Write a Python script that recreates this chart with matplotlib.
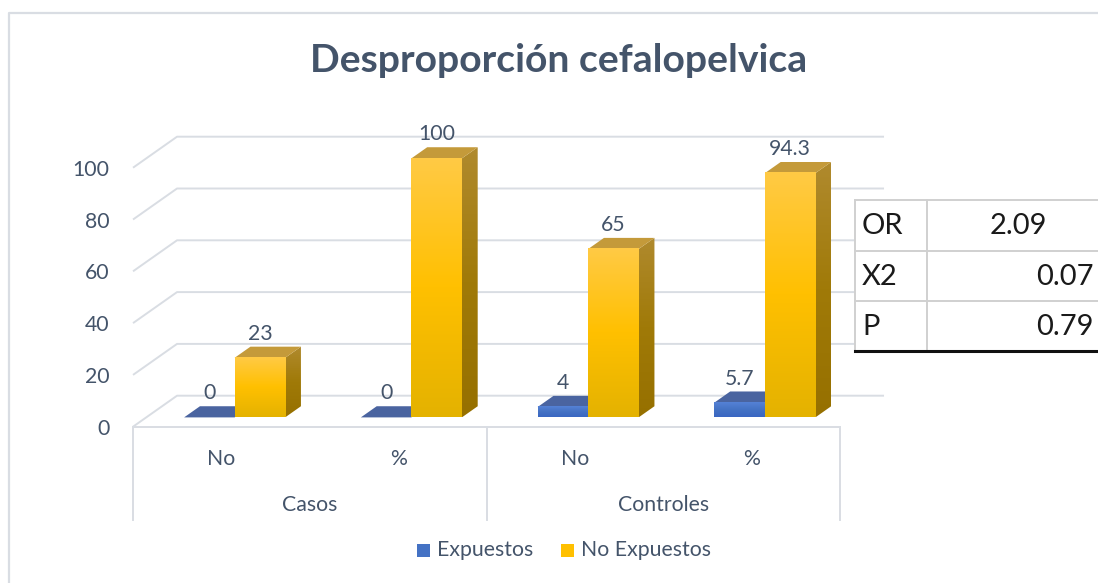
import matplotlib
matplotlib.use("Agg")
import numpy as np
import matplotlib.pyplot as plt
from matplotlib.patches import Polygon, Rectangle
from matplotlib.colors import LinearSegmentedColormap

# ---- data -------------------------------------------------------------
title = "Desproporción cefalopelvica"
groups = ["Casos", "Controles"]
subcats = ["No", "%", "No", "%"]
series_names = ["Expuestos", "No Expuestos"]
expuestos = [0, 0, 4, 5.7]
no_expuestos = [23, 100, 65, 94.3]
yticks = [0, 20, 40, 60, 80, 100]
stat_names = ["OR", "X2", "P"]
stat_values = ["2.09", "0.07", "0.79"]

# ---- style ------------------------------------------------------------
W, H, DPI = 1098, 583, 100
FONT = "Lato"
TEXT = "#44546A"
GRID = "#D9DDE3"
FS = 15.3
plt.rcParams["font.family"] = [FONT, "DejaVu Sans"]

fig = plt.figure(figsize=(W / DPI, H / DPI), dpi=DPI)
fig.patch.set_facecolor("white")

# chart axes: x in category units, y in value units
ax = fig.add_axes([0, 0, 1, 1])
ax.set_axis_off()
CAT_PX, X0_PX = 176.75, 221.4
VAL_PX, Y0_PX = 2.59, 426.7
XLIM = (-X0_PX / CAT_PX, (W - X0_PX) / CAT_PX)
YLIM = ((Y0_PX - H) / VAL_PX, Y0_PX / VAL_PX)

DX, DY = 44 / CAT_PX, 31 / VAL_PX      # depth of the 3-D box
F0, F1 = 0.30, 0.66                     # bars occupy this slice of the depth
BW = 1 / 3.5                            # bar width (gap width 150 %)
n = len(subcats)
left, right = -0.5, n - 0.5

# walls: gridlines on the side wall and the back wall
for v in yticks:
    ax.plot([left, left + DX, right + DX], [v, v + DY, v + DY],
            color=GRID, lw=1.4, solid_capstyle="butt", zorder=1)

# category axis box
ax.plot([left, right], [0, 0], color=GRID, lw=1.4, zorder=1)
for xv in [left, left + n / 2, right]:
    ax.plot([xv, xv], [0, -36], color=GRID, lw=1.4, zorder=1)


def vgrad(c_bottom, c_mid, c_top):
    return LinearSegmentedColormap.from_list("g", [c_bottom, c_mid, c_top])


grad = np.linspace(0, 1, 256).reshape(-1, 1)

yellow_front = vgrad("#E4B200", "#FFC000", "#FFCA45")
yellow_side = vgrad("#967000", "#A07A08", "#B08A2E")
yellow_top = "#C49A3A"
blue_front = vgrad("#3A66C2", "#4472C4", "#5582D6")
blue_side = vgrad("#2E4F8E", "#34589A", "#3E62A4")
blue_top = "#4A64A0"


def bar3d(xl, v, front, side, top, z):
    xf0 = xl + F0 * DX
    xf1 = xf0 + BW
    yb = F0 * DY
    yt = v + F0 * DY
    ddx, ddy = (F1 - F0) * DX, (F1 - F0) * DY
    # side face
    side_poly = Polygon([(xf1, yb), (xf1 + ddx, yb + ddy),
                         (xf1 + ddx, yt + ddy), (xf1, yt)],
                        closed=True, facecolor="none", edgecolor="none",
                        transform=ax.transData)
    if v > 0:
        im = ax.imshow(grad, extent=(xf1, xf1 + ddx, yb, yt + ddy),
                       origin="lower", aspect="auto", cmap=side, zorder=z)
        im.set_clip_path(side_poly)
    # top face
    ax.add_patch(Polygon([(xf0, yt), (xf1, yt), (xf1 + ddx, yt + ddy),
                          (xf0 + ddx, yt + ddy)], closed=True,
                         facecolor=top, edgecolor="none", zorder=z))
    # front face
    if v > 0:
        ax.imshow(grad, extent=(xf0, xf1, yb, yt), origin="lower",
                  aspect="auto", cmap=front, zorder=z + 0.1)
    # value label
    ax.text(xf0 + BW / 2, yt + 9.3, f"{v:g}", ha="center", va="center",
            fontsize=FS, color=TEXT, zorder=10)


for i in range(n):
    bar3d(i - BW, expuestos[i], blue_front, blue_side, blue_top, 3 + i)
    bar3d(i, no_expuestos[i], yellow_front, yellow_side, yellow_top, 3.5 + i)

# value axis labels
for v in yticks:
    ax.text(-0.632, v - 0.8, f"{v}", ha="right", va="center",
            fontsize=FS, color=TEXT)

# category labels
for i, s in enumerate(subcats):
    ax.text(i, -12.6, s, ha="center", va="center", fontsize=FS, color=TEXT)
per = n // len(groups)
for g, name in enumerate(groups):
    ax.text(g * per + (per - 1) / 2, -30.2, name, ha="center", va="center",
            fontsize=FS, color=TEXT)

ax.set_xlim(*XLIM)
ax.set_ylim(*YLIM)

# ---- overlay in pixel coordinates: frame, title, legend, stats table ----
ov = fig.add_axes([0, 0, 1, 1])
ov.set_axis_off()
ov.patch.set_alpha(0)
ov.set_xlim(0, W)
ov.set_ylim(H, 0)

FRAME = "#D9DDE3"
ov.plot([8.5, 8.5, W + 5], [H + 5, 12.5, 12.5], color=FRAME, lw=1.6)

t = ov.text(559, 60, title, ha="center", va="center", fontsize=26,
            fontweight="bold", color=TEXT)
# fit the title to its width on the chart
fig.canvas.draw()
r = fig.canvas.get_renderer()
wpx = t.get_window_extent(r).width
t.set_fontsize(26 * 498 / wpx)

# legend
leg_colors = ["#4472C4", "#FFC000"]
leg_x = [417, 561]
for xs, c, name in zip(leg_x, leg_colors, series_names):
    ov.add_patch(Rectangle((xs, 543.5), 13, 13, facecolor=c, edgecolor="none"))
    ov.text(xs + 20, 550, name, ha="left", va="center", fontsize=FS,
            color=TEXT)

# statistics table
tx0, tx1, tcol = 855, W + 10, 927
rows = [200, 250.7, 301, 351]
ov.add_patch(Rectangle((tx0, rows[0]), tx1 - tx0, rows[-1] - rows[0],
                       facecolor="white", edgecolor="none", zorder=5))
TGRID = "#D0D0D0"
for yv in rows[:-1]:
    ov.plot([tx0, tx1], [yv, yv], color=TGRID, lw=1.4, zorder=6)
ov.plot([tx0, tx1], [rows[-1], rows[-1]], color="#111111", lw=2.2, zorder=7)
ov.plot([tx0, tx0], [rows[0], rows[-1]], color=TGRID, lw=1.4, zorder=6)
ov.plot([tcol, tcol], [rows[0], rows[-1]], color=TGRID, lw=1.4, zorder=6)
TFS = 21
for k, (nm, val) in enumerate(zip(stat_names, stat_values)):
    yc = (rows[k] + rows[k + 1]) / 2 + 1
    ov.text(862, yc, nm, ha="left", va="center", fontsize=TFS,
            color="#1A1A1A", zorder=8)
    if k == 0:
        ov.text(1018, yc, val, ha="center", va="center", fontsize=TFS,
                color="#1A1A1A", zorder=8)
    else:
        ov.text(1094, yc, val, ha="right", va="center", fontsize=TFS,
                color="#1A1A1A", zorder=8)

fig.savefig("out.png", dpi=DPI, facecolor="white")
